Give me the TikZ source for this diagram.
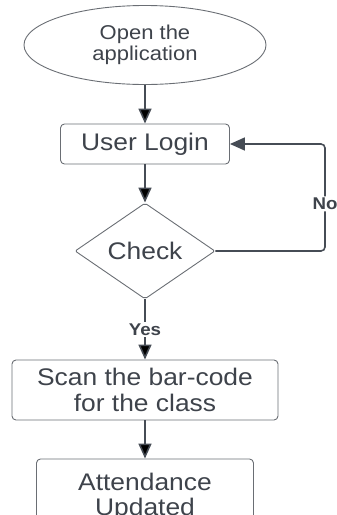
\documentclass[tikz,border=0pt]{standalone}
\usepackage{fontspec}
\setmainfont[FakeStretch=1.1]{Liberation Sans}
\usepackage{tikz}
\usetikzlibrary{positioning,shapes.geometric,arrows.meta}

\definecolor{flowline}{HTML}{464C55}
\definecolor{flowtext}{HTML}{3E434B}
\definecolor{flowborder}{HTML}{6A6E74}

\tikzset{
  startstop/.style={ellipse,draw=flowborder,line width=0.9pt,text=flowtext,
    minimum width=242pt,minimum height=79pt,align=center,inner sep=0pt,
    font=\fontsize{20}{21}\selectfont},
  process/.style={rectangle,rounded corners=4pt,draw=flowborder,line width=0.9pt,
    text=flowtext,align=center,inner sep=0pt,font=\fontsize{24}{25.5}\selectfont},
  decision/.style={diamond,shape aspect=1.5,draw=flowborder,line width=0.9pt,
    text=flowtext,inner sep=0pt,minimum width=140pt,minimum height=96pt,
    rounded corners=2pt,font=\fontsize{24}{25}\selectfont},
  flow/.style={draw=flowline,line width=1.6pt,-{Triangle[length=15pt,width=13pt]}},
  answer/.style={fill=white,text=flowtext,inner sep=1.5pt,
    font=\fontsize{17}{17}\bfseries\selectfont}
}

\begin{document}
\begin{tikzpicture}[on grid]
    \useasboundingbox (-145pt,45pt) rectangle (192pt,-470pt);
    \node[startstop] (open) at (0,0) {Open the\\application};
    \node[process,minimum width=169pt,minimum height=40pt] (login) [below = 99pt of open] {User Login};
    \node[decision] (check) [below = 107pt of login] {Check};
    \node[process,minimum width=266pt,minimum height=60pt] (scan) [below = 139pt of check] {Scan the bar-code\\for the class};
    \node[process,minimum width=217pt,minimum height=76pt] (attend) [below = 107pt of scan] {Attendance\\Updated};
    \coordinate[right = 180pt of check] (noturn);

    \path[flow]
    (open) edge [] (login)
    (login) edge [] (check)
    (check) edge [] node [answer] {Yes} (scan)
    (scan) edge [] (attend)
    ;
    \draw[flow,rounded corners=4pt] (check.east) -- (noturn)
      |- node [answer,pos=0.22] {No} (login.east);
  \end{tikzpicture}
\end{document}
